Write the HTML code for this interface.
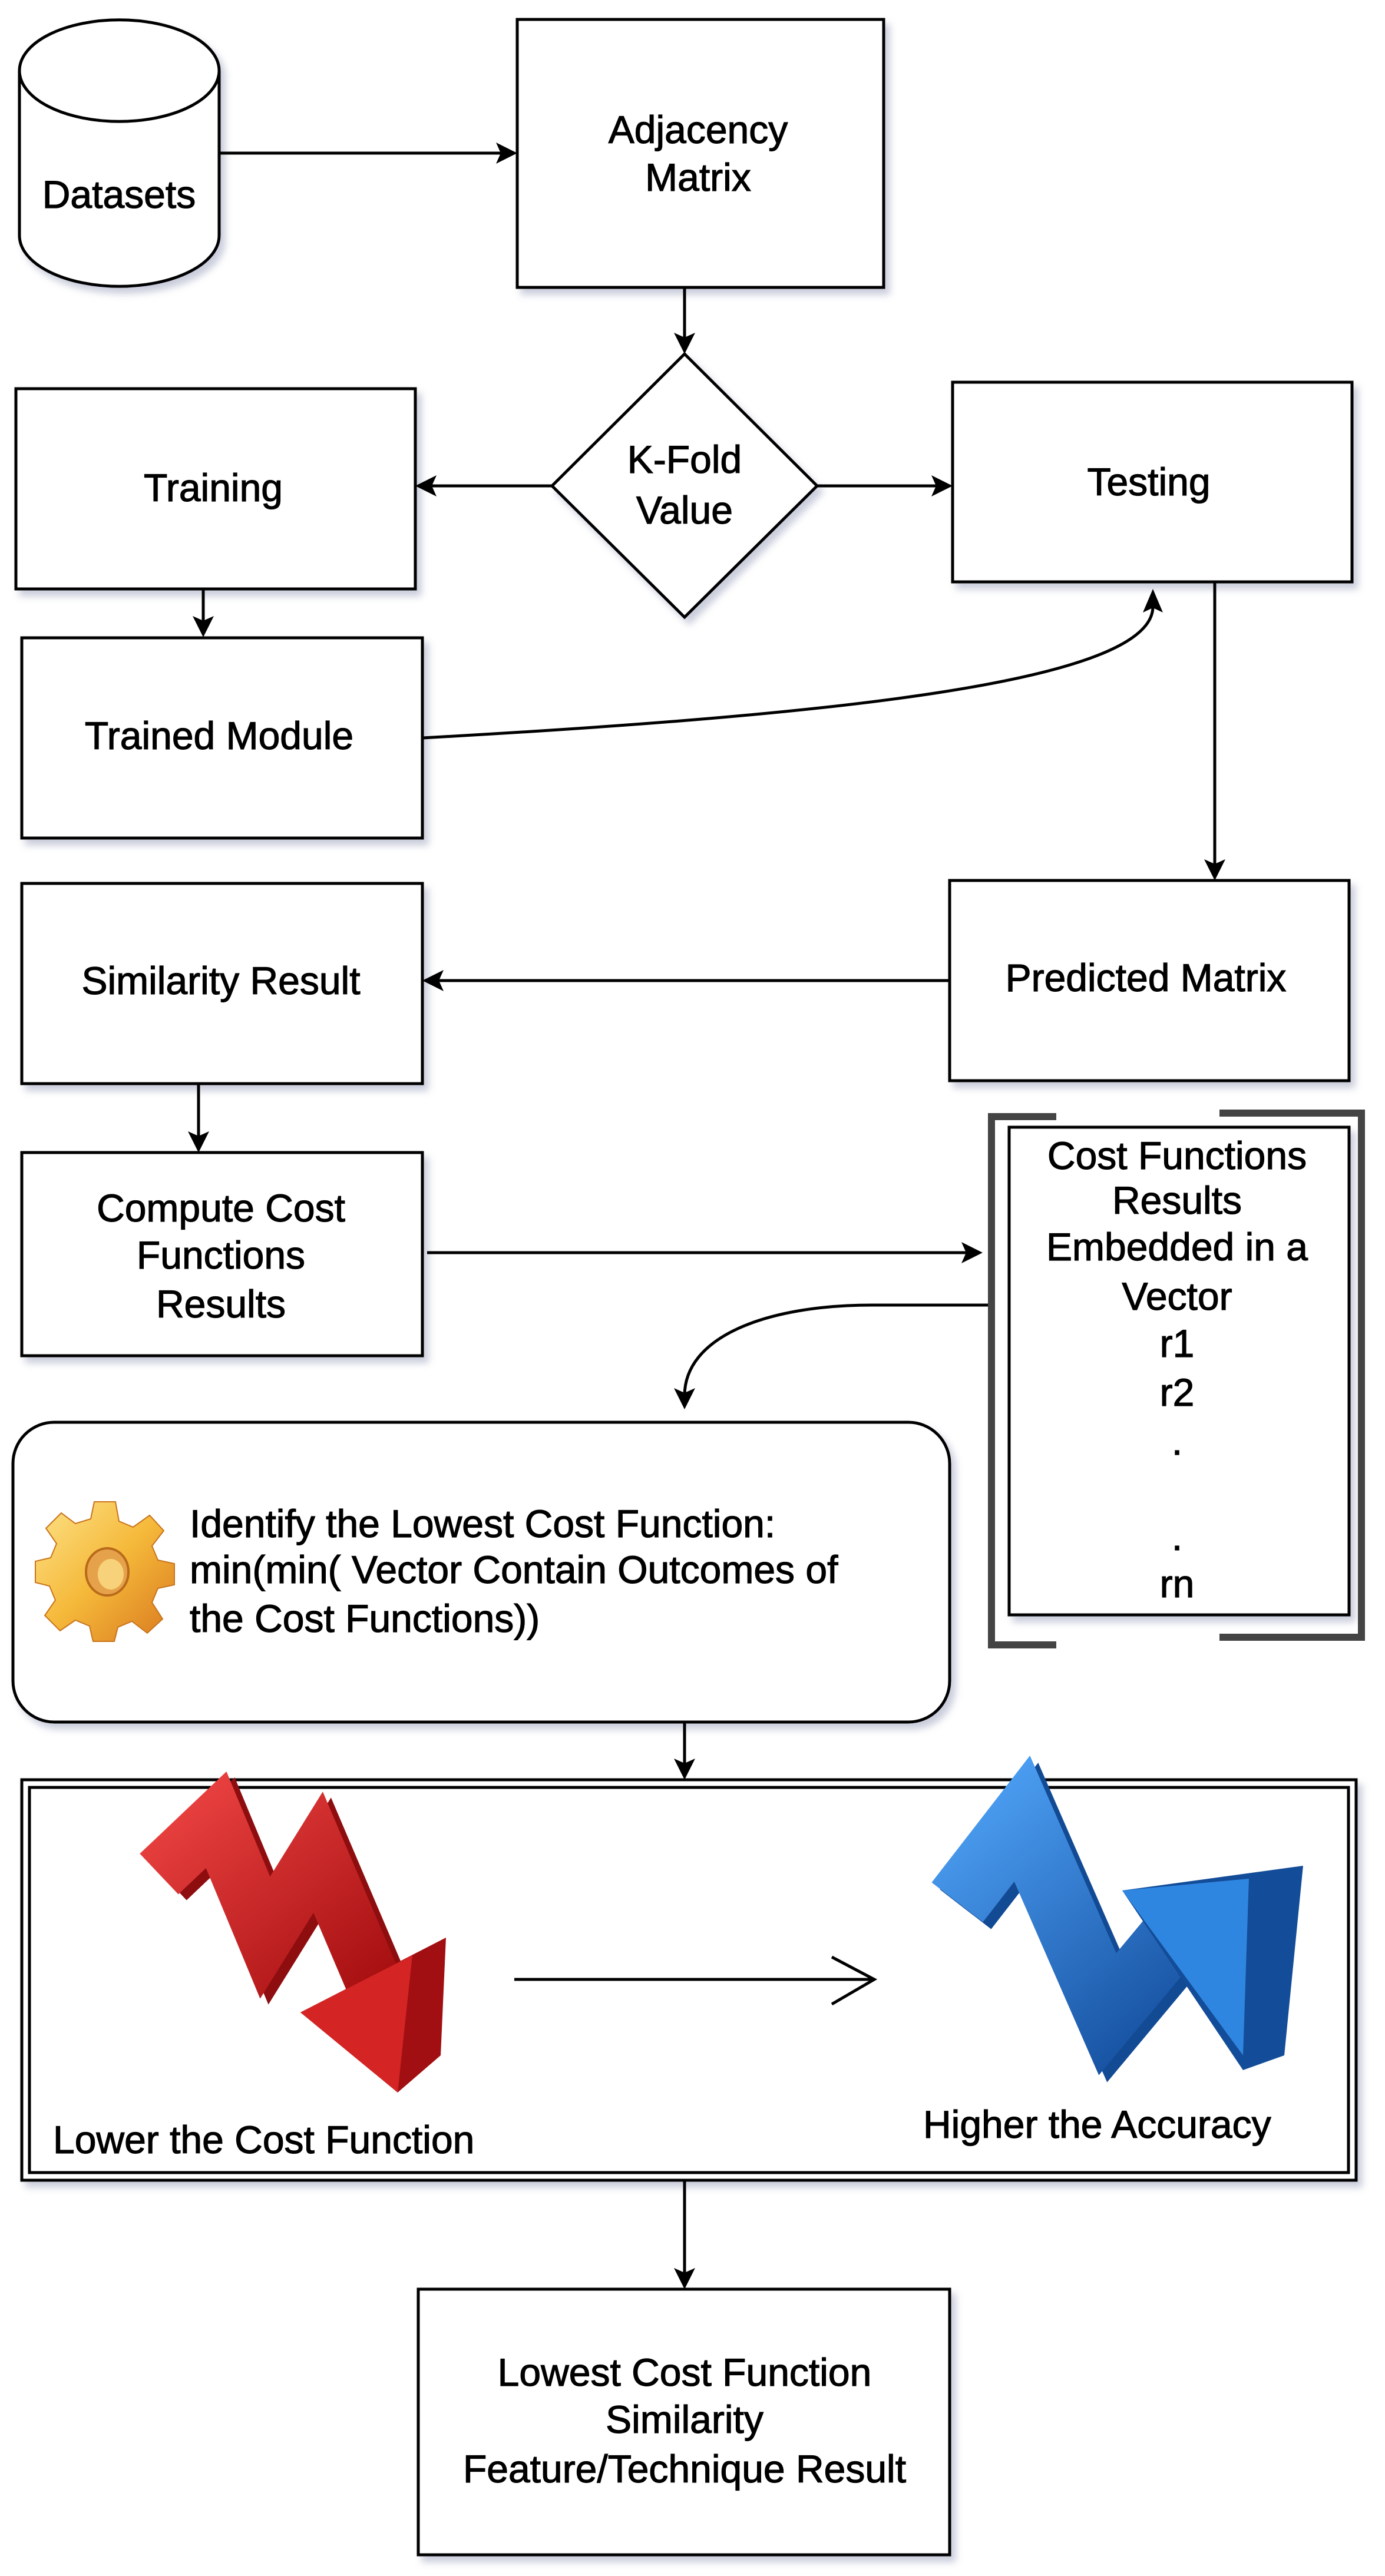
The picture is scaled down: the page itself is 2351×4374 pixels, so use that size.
<!DOCTYPE html>
<html><head><meta charset="utf-8"><style>
html,body{margin:0;padding:0;background:#fff;}
svg{display:block;}
text{font-family:"Liberation Sans",Arial,sans-serif;font-size:66px;fill:#000;stroke:#000;stroke-width:1.2px;}
</style></head><body>
<svg width="2351" height="4374" viewBox="0 0 2351 4374" xmlns="http://www.w3.org/2000/svg">
<defs>
<filter id="sh" x="-10%" y="-10%" width="130%" height="130%">
<feDropShadow dx="8" dy="10" stdDeviation="6" flood-color="#8a8fb0" flood-opacity="0.45"/>
</filter>
<linearGradient id="gold" x1="0" y1="0" x2="1" y2="1"><stop offset="0" stop-color="#fde38a"/><stop offset="0.5" stop-color="#f5b93a"/><stop offset="1" stop-color="#d9781e"/></linearGradient>
<linearGradient id="red" x1="0" y1="0" x2="1" y2="1"><stop offset="0" stop-color="#e8403f"/><stop offset="1" stop-color="#a50e10"/></linearGradient>
<linearGradient id="blue" x1="0" y1="0" x2="1" y2="1"><stop offset="0" stop-color="#4a9cf0"/><stop offset="1" stop-color="#1650a0"/></linearGradient>
</defs>

<g stroke="#000" stroke-width="5" fill="#fff" filter="url(#sh)">
<path d="M33 120 A169 86 0 0 1 372 120 L372 400 A169 86 0 0 1 33 400 Z"/>
<rect x="878" y="33" width="622" height="455"/>
<rect x="27" y="660" width="678" height="340"/>
<rect x="1617" y="649" width="678" height="339"/>
<polygon points="1162,601 1387,825 1162,1048 937,825"/>
<rect x="37" y="1083" width="680" height="340"/>
<rect x="37" y="1500" width="680" height="340"/>
<rect x="1612" y="1495" width="678" height="340"/>
<rect x="37" y="1957" width="680" height="345"/>
<rect x="1713" y="1914" width="577" height="828"/>
<rect x="22" y="2415" width="1590" height="509" rx="70" ry="70"/>
<rect x="37" y="3022" width="2265" height="680"/>
<rect x="710" y="3887" width="902" height="451"/>
</g>
<path d="M33 120 A169 86 0 0 0 372 120" stroke="#000" stroke-width="5" fill="none"/>
<rect x="50" y="3035" width="2239" height="654" fill="none" stroke="#000" stroke-width="5"/>

<g fill="none" stroke="#444" stroke-width="12">
<path d="M1793 1896 L1683 1896 L1683 2793 L1793 2793"/>
<path d="M2070 1890 L2311 1890 L2311 2780 L2070 2780"/>
</g>

<g stroke="#000" stroke-width="5" fill="none">
<line x1="372" y1="260" x2="850" y2="260"/>
<line x1="1162" y1="488" x2="1162" y2="575"/>
<line x1="937" y1="825" x2="732" y2="825"/>
<line x1="1387" y1="825" x2="1590" y2="825"/>
<line x1="345" y1="1000" x2="345" y2="1058"/>
<path d="M717 1253 C1400 1215 1957 1160 1957 1030"/>
<line x1="2062" y1="988" x2="2062" y2="1468"/>
<line x1="1612" y1="1665" x2="745" y2="1665"/>
<line x1="337" y1="1840" x2="337" y2="1930"/>
<line x1="725" y1="2127" x2="1640" y2="2127"/>
<path d="M1677 2216 L1480 2216 C1300 2216 1162 2270 1162 2370"/>
<line x1="1162" y1="2924" x2="1162" y2="2995"/>
<line x1="873" y1="3361" x2="1480" y2="3361"/>
<polyline points="1412,3323 1484,3361 1412,3403"/>
<line x1="1162" y1="3702" x2="1162" y2="3860"/>
</g>
<g fill="#000">
<polygon points="878,260 842,242 850,260 842,278"/>
<polygon points="1162,601 1144,565 1162,573 1180,565"/>
<polygon points="705,825 741,807 733,825 741,843"/>
<polygon points="1617,825 1581,807 1589,825 1581,843"/>
<polygon points="345,1082 327,1046 345,1054 363,1046"/>
<polygon points="1957,1000 1940,1040 1957,1032 1974,1040"/>
<polygon points="2062,1495 2044,1459 2062,1467 2080,1459"/>
<polygon points="717,1665 753,1647 745,1665 753,1683"/>
<polygon points="337,1957 319,1921 337,1929 355,1921"/>
<polygon points="1668,2127 1632,2109 1640,2127 1632,2145"/>
<polygon points="1162,2393 1144,2357 1162,2365 1180,2357"/>
<polygon points="1162,3022 1144,2986 1162,2994 1180,2986"/>
<polygon points="1162,3887 1144,3851 1162,3859 1180,3851"/>
</g>

<g transform="translate(178,2665)">
<g fill="url(#gold)" stroke="#c9741b" stroke-width="2">
<path d="M-18 -115 L18 -115 L24 -82 L48 -72 L76 -92 L100 -66 L80 -40 L90 -16 L118 -10 L118 26 L90 32 L80 56 L98 84 L72 108 L46 88 L22 98 L16 122 L-20 122 L-26 96 L-50 86 L-76 104 L-102 78 L-84 52 L-94 28 L-118 22 L-118 -14 L-92 -20 L-82 -44 L-100 -70 L-74 -96 L-50 -78 L-24 -86 Z"/>
</g>
<ellipse cx="4" cy="4" rx="36" ry="40" fill="#e6a24a" stroke="#b86a1a" stroke-width="4"/>
<ellipse cx="10" cy="8" rx="22" ry="26" fill="#f7d27a"/>
</g>

<g stroke-linejoin="miter">
<polyline points="270,3182 367,3090 450,3290 540,3145 640,3380" fill="none" stroke="#8e0d0f" stroke-width="95" transform="translate(14,10)"/>
<polyline points="270,3182 367,3090 450,3290 540,3145 640,3380" fill="none" stroke="url(#red)" stroke-width="95"/>
<polygon points="510,3417 757,3290 748,3490 675,3553" fill="#a10f12"/>
<polygon points="510,3417 700,3320 675,3553" fill="#d42424"/>
</g>
<g stroke-linejoin="miter">
<polyline points="1625,3230 1735,3088 1880,3420 2030,3240" fill="none" stroke="#124a94" stroke-width="110" transform="translate(14,12)"/>
<polyline points="1625,3230 1735,3088 1880,3420 2030,3240" fill="none" stroke="url(#blue)" stroke-width="110"/>
<polygon points="1905,3210 2212,3168 2180,3490 2110,3515" fill="#134c98"/>
<polygon points="1905,3210 2120,3190 2110,3490" fill="#2f86e0"/>
</g>

<g text-anchor="middle">
<text x="202" y="353">Datasets</text>
<text x="1185" y="243">Adjacency</text>
<text x="1185" y="324">Matrix</text>
<text x="1162" y="803">K-Fold</text>
<text x="1162" y="889">Value</text>
<text x="362" y="851">Training</text>
<text x="1950" y="841">Testing</text>
<text x="372" y="1272">Trained Module</text>
<text x="375" y="1688">Similarity Result</text>
<text x="1945" y="1683">Predicted Matrix</text>
<text x="375" y="2074">Compute Cost</text>
<text x="375" y="2154">Functions</text>
<text x="375" y="2237">Results</text>
<text x="1998" y="1985">Cost Functions</text>
<text x="1998" y="2061">Results</text>
<text x="1998" y="2140">Embedded in a</text>
<text x="1998" y="2224">Vector</text>
<text x="1998" y="2304">r1</text>
<text x="1998" y="2387">r2</text>
<text x="1998" y="2470">.</text>
<text x="1998" y="2632">.</text>
<text x="1998" y="2712">rn</text>
<text x="1162" y="4051">Lowest Cost Function</text>
<text x="1162" y="4131">Similarity</text>
<text x="1162" y="4215">Feature/Technique Result</text>
</g>
<text x="322" y="2610">Identify the Lowest Cost Function:</text>
<text x="322" y="2688">min(min( Vector Contain Outcomes of</text>
<text x="322" y="2771">the Cost Functions))</text>
<text x="90" y="3656">Lower the Cost Function</text>
<text x="1567" y="3630">Higher the Accuracy</text>
</svg>
</body></html>
